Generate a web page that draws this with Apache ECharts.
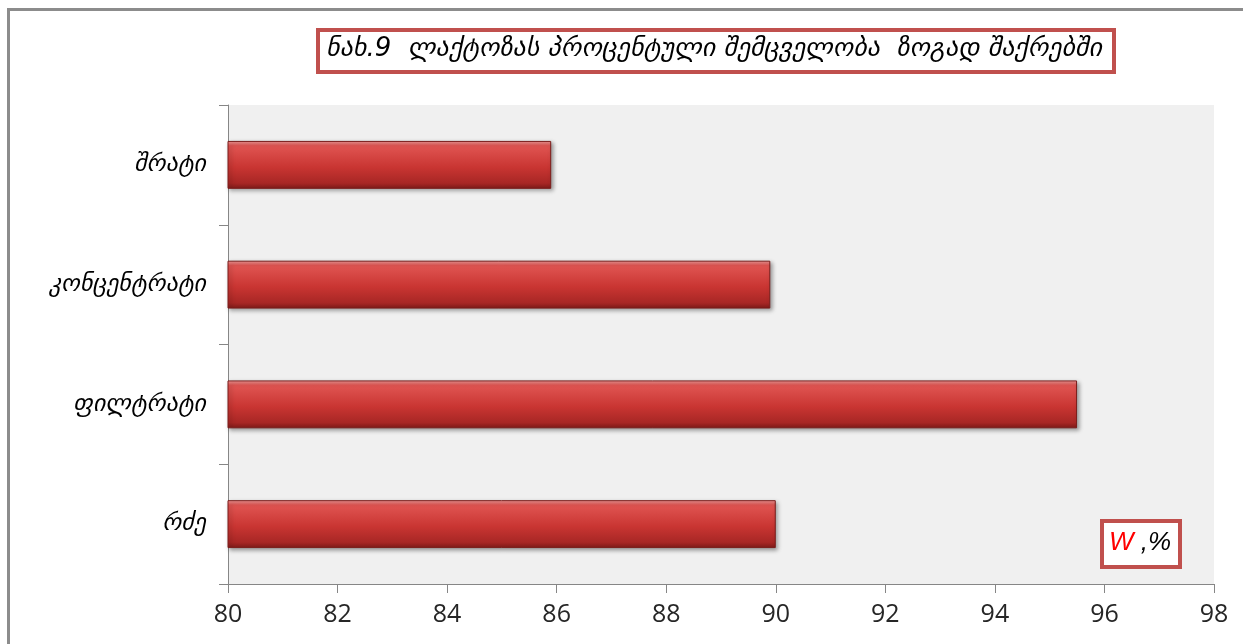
<!DOCTYPE html>
<html>
<head>
<meta charset="utf-8">
<script src="https://cdn.jsdelivr.net/npm/echarts@6/dist/echarts.min.js"></script>
<style>
html,body{margin:0;padding:0;background:#fff;}
#chart{width:1243px;height:644px;}
</style>
</head>
<body>
<div id="chart"></div>
<script>
const categories = ['შრატი', 'კონცენტრატი', 'ფილტრატი', 'რძე'];
const values = [85.9, 89.9, 95.5, 90.0];
const xTicks = { min: 80, max: 98, interval: 2 };
const titleText = 'ნახ.9  ლაქტოზას პროცენტული შემცველობა  ზოგად შაქრებში';

const chart = echarts.init(document.getElementById('chart'), null, { renderer: 'canvas' });
const geo = '"DejaVu Sans", sans-serif';

chart.setOption({
  backgroundColor: '#ffffff',
  animation: false,
  grid: {
    left: 228, right: 29, top: 105, bottom: 60,
    show: true, backgroundColor: '#f0f0f0', borderWidth: 0
  },
  xAxis: {
    type: 'value',
    min: xTicks.min, max: xTicks.max, interval: xTicks.interval,
    axisLine: { show: true, lineStyle: { color: '#868686', width: 1 } },
    axisTick: { show: true, length: 9, lineStyle: { color: '#868686' } },
    splitLine: { show: false },
    axisLabel: { color: '#262626', fontSize: 25, fontFamily: '"Open Sans", Lato, sans-serif', margin: 18 }
  },
  yAxis: {
    type: 'category',
    data: categories,
    inverse: true,
    axisLine: { show: true, lineStyle: { color: '#868686', width: 1 } },
    axisTick: { show: true, length: 9, lineStyle: { color: '#868686' } },
    axisLabel: { color: '#000', fontSize: 24, fontStyle: 'italic', fontFamily: geo, margin: 22 }
  },
  series: [{
    type: 'bar',
    data: values,
    barCategoryGap: '60%',
    itemStyle: {
      color: new echarts.graphic.LinearGradient(0, 0, 0, 1, [
        { offset: 0, color: '#f09a98' },
        { offset: 0.1, color: '#e05552' },
        { offset: 0.55, color: '#c93532' },
        { offset: 0.88, color: '#a82725' },
        { offset: 1, color: '#7e1a18' }
      ]),
      borderColor: '#7a1d1b',
      borderWidth: 1,
      shadowColor: 'rgba(0,0,0,0.35)',
      shadowBlur: 4,
      shadowOffsetX: 2,
      shadowOffsetY: 2
    }
  }],
  graphic: [
    {
      type: 'rect', left: 6, top: 7, z: 100, silent: true,
      shape: { width: 1236, height: 660 },
      style: { fill: 'none', stroke: '#8c8c8c', lineWidth: 3 }
    },
    {
      type: 'rect', left: 316, top: 28, z: 100,
      shape: { width: 796, height: 42 },
      style: { fill: '#ffffff', stroke: '#c0504d', lineWidth: 4 }
    },
    {
      type: 'text', z: 101,
      style: {
        x: 714, y: 49, text: titleText, fill: '#000',
        align: 'center', verticalAlign: 'middle',
        font: 'italic 26px ' + geo
      }
    },
    {
      type: 'rect', left: 1100, top: 519, z: 100,
      shape: { width: 78, height: 46 },
      style: { fill: '#ffffff', stroke: '#c0504d', lineWidth: 4 }
    },
    {
      type: 'text', z: 101,
      style: {
        x: 1140, y: 543, align: 'center', verticalAlign: 'middle',
        text: '{w|W}{p| ,%}',
        rich: {
          w: { fill: '#ff0000', font: 'italic 26px "Liberation Sans", sans-serif' },
          p: { fill: '#000', font: 'italic 26px "Liberation Sans", sans-serif' }
        }
      }
    }
  ]
});
</script>
</body>
</html>
